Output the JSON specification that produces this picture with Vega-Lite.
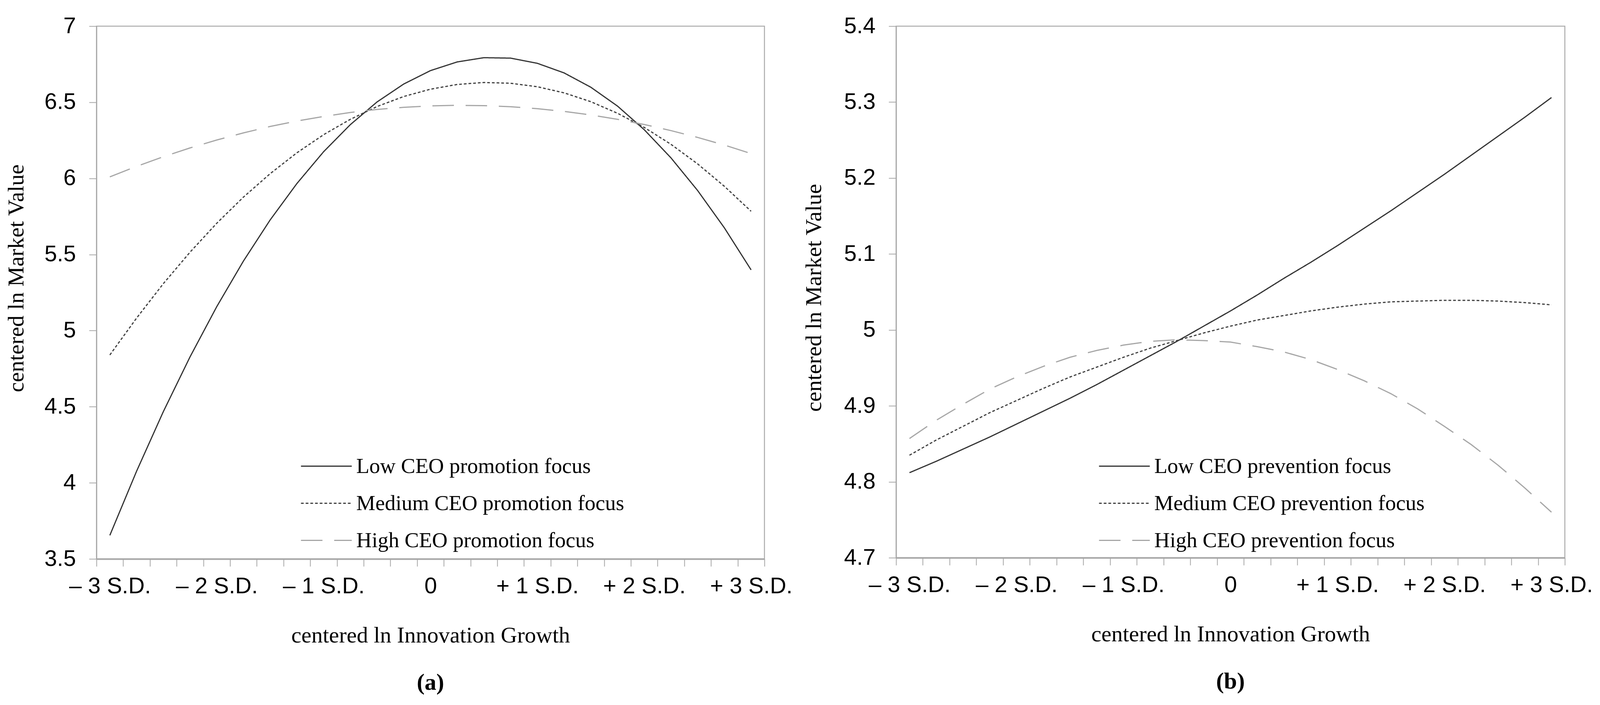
{
  "$schema": "https://vega.github.io/schema/vega-lite/v6.json",
  "background": "white",
  "padding": {"left": 12, "top": 36, "right": 4, "bottom": 4},
  "spacing": 24,
  "config": {
    "view": {"stroke": "#ababab", "strokeWidth": 2.5},
    "axis": {
      "grid": false,
      "domainColor": "#a6a6a6",
      "domainWidth": 2.5,
      "tickColor": "#a6a6a6",
      "tickWidth": 2,
      "tickSize": 19,
      "labelFont": "Liberation Sans",
      "labelFontSize": 58,
      "labelColor": "#000000",
      "labelLimit": 1000,
      "titleFont": "Liberation Serif",
      "titleFontSize": 58,
      "titleFontWeight": "normal",
      "titleColor": "#000000"
    },
    "legend": {
      "labelFont": "Liberation Serif",
      "labelFontSize": 55,
      "labelColor": "#000000",
      "labelLimit": 2000
    },
    "title": {"font": "Liberation Serif", "fontSize": 60, "fontWeight": "bold", "color": "#000000"}
  },
  "datasets": {
    "a": [
      {"x": -3, "level": "Low", "y": 3.655}, {"x": -2.75, "level": "Low", "y": 4.076}, {"x": -2.5, "level": "Low", "y": 4.467},
      {"x": -2.25, "level": "Low", "y": 4.827}, {"x": -2, "level": "Low", "y": 5.157}, {"x": -1.75, "level": "Low", "y": 5.457},
      {"x": -1.5, "level": "Low", "y": 5.727}, {"x": -1.25, "level": "Low", "y": 5.966}, {"x": -1, "level": "Low", "y": 6.175},
      {"x": -0.75, "level": "Low", "y": 6.353}, {"x": -0.5, "level": "Low", "y": 6.502}, {"x": -0.25, "level": "Low", "y": 6.62},
      {"x": 0, "level": "Low", "y": 6.708}, {"x": 0.25, "level": "Low", "y": 6.765}, {"x": 0.5, "level": "Low", "y": 6.793},
      {"x": 0.75, "level": "Low", "y": 6.79}, {"x": 1, "level": "Low", "y": 6.756}, {"x": 1.25, "level": "Low", "y": 6.693},
      {"x": 1.5, "level": "Low", "y": 6.599}, {"x": 1.75, "level": "Low", "y": 6.475}, {"x": 2, "level": "Low", "y": 6.32},
      {"x": 2.25, "level": "Low", "y": 6.135}, {"x": 2.5, "level": "Low", "y": 5.92}, {"x": 2.75, "level": "Low", "y": 5.675},
      {"x": 3, "level": "Low", "y": 5.399},
      {"x": -3, "level": "Medium", "y": 4.84}, {"x": -2.75, "level": "Medium", "y": 5.082}, {"x": -2.5, "level": "Medium", "y": 5.308},
      {"x": -2.25, "level": "Medium", "y": 5.515}, {"x": -2, "level": "Medium", "y": 5.705}, {"x": -1.75, "level": "Medium", "y": 5.877},
      {"x": -1.5, "level": "Medium", "y": 6.031}, {"x": -1.25, "level": "Medium", "y": 6.168}, {"x": -1, "level": "Medium", "y": 6.287},
      {"x": -0.75, "level": "Medium", "y": 6.388}, {"x": -0.5, "level": "Medium", "y": 6.472}, {"x": -0.25, "level": "Medium", "y": 6.538},
      {"x": 0, "level": "Medium", "y": 6.586}, {"x": 0.25, "level": "Medium", "y": 6.617}, {"x": 0.5, "level": "Medium", "y": 6.63},
      {"x": 0.75, "level": "Medium", "y": 6.625}, {"x": 1, "level": "Medium", "y": 6.602}, {"x": 1.25, "level": "Medium", "y": 6.562},
      {"x": 1.5, "level": "Medium", "y": 6.504}, {"x": 1.75, "level": "Medium", "y": 6.428}, {"x": 2, "level": "Medium", "y": 6.335},
      {"x": 2.25, "level": "Medium", "y": 6.224}, {"x": 2.5, "level": "Medium", "y": 6.095}, {"x": 2.75, "level": "Medium", "y": 5.948},
      {"x": 3, "level": "Medium", "y": 5.784},
      {"x": -3, "level": "High", "y": 6.01}, {"x": -2.75, "level": "High", "y": 6.079}, {"x": -2.5, "level": "High", "y": 6.142},
      {"x": -2.25, "level": "High", "y": 6.2}, {"x": -2, "level": "High", "y": 6.252}, {"x": -1.75, "level": "High", "y": 6.299},
      {"x": -1.5, "level": "High", "y": 6.341}, {"x": -1.25, "level": "High", "y": 6.377}, {"x": -1, "level": "High", "y": 6.407},
      {"x": -0.75, "level": "High", "y": 6.433}, {"x": -0.5, "level": "High", "y": 6.453}, {"x": -0.25, "level": "High", "y": 6.467},
      {"x": 0, "level": "High", "y": 6.476}, {"x": 0.25, "level": "High", "y": 6.48}, {"x": 0.5, "level": "High", "y": 6.478},
      {"x": 0.75, "level": "High", "y": 6.471}, {"x": 1, "level": "High", "y": 6.458}, {"x": 1.25, "level": "High", "y": 6.44},
      {"x": 1.5, "level": "High", "y": 6.417}, {"x": 1.75, "level": "High", "y": 6.388}, {"x": 2, "level": "High", "y": 6.354},
      {"x": 2.25, "level": "High", "y": 6.314}, {"x": 2.5, "level": "High", "y": 6.269}, {"x": 2.75, "level": "High", "y": 6.219},
      {"x": 3, "level": "High", "y": 6.163}
    ],
    "b": [
      {"x": -3, "level": "Low", "y": 4.812}, {"x": -2.75, "level": "Low", "y": 4.827}, {"x": -2.5, "level": "Low", "y": 4.843},
      {"x": -2.25, "level": "Low", "y": 4.859}, {"x": -2, "level": "Low", "y": 4.876}, {"x": -1.75, "level": "Low", "y": 4.893},
      {"x": -1.5, "level": "Low", "y": 4.91}, {"x": -1.25, "level": "Low", "y": 4.928}, {"x": -1, "level": "Low", "y": 4.947},
      {"x": -0.75, "level": "Low", "y": 4.966}, {"x": -0.5, "level": "Low", "y": 4.985}, {"x": -0.25, "level": "Low", "y": 5.005},
      {"x": 0, "level": "Low", "y": 5.025}, {"x": 0.25, "level": "Low", "y": 5.046}, {"x": 0.5, "level": "Low", "y": 5.068},
      {"x": 0.75, "level": "Low", "y": 5.089}, {"x": 1, "level": "Low", "y": 5.111}, {"x": 1.25, "level": "Low", "y": 5.134},
      {"x": 1.5, "level": "Low", "y": 5.157}, {"x": 1.75, "level": "Low", "y": 5.181}, {"x": 2, "level": "Low", "y": 5.205},
      {"x": 2.25, "level": "Low", "y": 5.23}, {"x": 2.5, "level": "Low", "y": 5.255}, {"x": 2.75, "level": "Low", "y": 5.28},
      {"x": 3, "level": "Low", "y": 5.306},
      {"x": -3, "level": "Medium", "y": 4.835}, {"x": -2.75, "level": "Medium", "y": 4.855}, {"x": -2.5, "level": "Medium", "y": 4.873},
      {"x": -2.25, "level": "Medium", "y": 4.891}, {"x": -2, "level": "Medium", "y": 4.907}, {"x": -1.75, "level": "Medium", "y": 4.923},
      {"x": -1.5, "level": "Medium", "y": 4.938}, {"x": -1.25, "level": "Medium", "y": 4.951}, {"x": -1, "level": "Medium", "y": 4.964},
      {"x": -0.75, "level": "Medium", "y": 4.976}, {"x": -0.5, "level": "Medium", "y": 4.986}, {"x": -0.25, "level": "Medium", "y": 4.996},
      {"x": 0, "level": "Medium", "y": 5.005}, {"x": 0.25, "level": "Medium", "y": 5.013}, {"x": 0.5, "level": "Medium", "y": 5.019},
      {"x": 0.75, "level": "Medium", "y": 5.025}, {"x": 1, "level": "Medium", "y": 5.03}, {"x": 1.25, "level": "Medium", "y": 5.034},
      {"x": 1.5, "level": "Medium", "y": 5.037}, {"x": 1.75, "level": "Medium", "y": 5.038}, {"x": 2, "level": "Medium", "y": 5.039},
      {"x": 2.25, "level": "Medium", "y": 5.039}, {"x": 2.5, "level": "Medium", "y": 5.038}, {"x": 2.75, "level": "Medium", "y": 5.036},
      {"x": 3, "level": "Medium", "y": 5.033},
      {"x": -3, "level": "High", "y": 4.857}, {"x": -2.75, "level": "High", "y": 4.881}, {"x": -2.5, "level": "High", "y": 4.902},
      {"x": -2.25, "level": "High", "y": 4.922}, {"x": -2, "level": "High", "y": 4.938}, {"x": -1.75, "level": "High", "y": 4.952},
      {"x": -1.5, "level": "High", "y": 4.964}, {"x": -1.25, "level": "High", "y": 4.973}, {"x": -1, "level": "High", "y": 4.98},
      {"x": -0.75, "level": "High", "y": 4.985}, {"x": -0.5, "level": "High", "y": 4.987}, {"x": -0.25, "level": "High", "y": 4.986},
      {"x": 0, "level": "High", "y": 4.984}, {"x": 0.25, "level": "High", "y": 4.978}, {"x": 0.5, "level": "High", "y": 4.971},
      {"x": 0.75, "level": "High", "y": 4.961}, {"x": 1, "level": "High", "y": 4.948}, {"x": 1.25, "level": "High", "y": 4.933},
      {"x": 1.5, "level": "High", "y": 4.916}, {"x": 1.75, "level": "High", "y": 4.896}, {"x": 2, "level": "High", "y": 4.873},
      {"x": 2.25, "level": "High", "y": 4.849}, {"x": 2.5, "level": "High", "y": 4.822}, {"x": 2.75, "level": "High", "y": 4.792},
      {"x": 3, "level": "High", "y": 4.76}
    ]
  },
  "hconcat": [
    {
      "data": {"name": "a"},
      "width": 1710,
      "height": 1364,
      "title": {"text": "(a)", "orient": "bottom", "anchor": "middle", "offset": 63},
      "mark": {"type": "line", "strokeCap": "butt"},
      "encoding": {
        "x": {
          "field": "x", "type": "quantitative",
          "scale": {"domain": [-3.125, 3.125], "nice": false, "zero": false},
          "axis": {
            "title": "centered ln Innovation Growth",
            "values": [-3.125, -2.875, -2.625, -2.375, -2.125, -1.875, -1.625, -1.375, -1.125, -0.875, -0.625, -0.375, -0.125, 0.125, 0.375, 0.625, 0.875, 1.125, 1.375, 1.625, 1.875, 2.125, 2.375, 2.625, 2.875, 3.125, -3, -2, -1, 0, 1, 2, 3],
            "labelExpr": "abs(datum.value - round(datum.value)) > 0.01 ? '' : (datum.value == 0 ? '0' : (datum.value < 0 ? '– ' + abs(datum.value) + ' S.D.' : '+ ' + datum.value + ' S.D.'))",
            "tickOpacity": {"condition": {"test": "abs(datum.value - round(datum.value)) < 0.01", "value": 0}, "value": 1},
            "labelOverlap": false, "labelBound": false, "labelFlush": false,
            "domainWidth": 4, "labelPadding": 22, "titlePadding": 68
          }
        },
        "y": {
          "field": "y", "type": "quantitative",
          "scale": {"domain": [3.5, 7], "nice": false, "zero": false},
          "axis": {
            "title": "centered ln Market Value",
            "values": [3.5, 4, 4.5, 5, 5.5, 6, 6.5, 7],
            "format": "~g", "labelPadding": 34, "titlePadding": 42, "titleY": 645
          }
        },
        "color": {
          "field": "level", "type": "nominal",
          "scale": {"domain": ["Low", "Medium", "High"], "range": ["#333333", "#404040", "#a6a6a6"]},
          "legend": {"orient": "none", "legendX": 522, "legendY": 1060, "title": null, "padding": 0, "labelExpr": "datum.label + ' CEO promotion focus'", "symbolSize": 16900, "rowPadding": -5, "labelOffset": 10}
        },
        "strokeDash": {
          "field": "level", "type": "nominal",
          "scale": {"domain": ["Low", "Medium", "High"], "range": [[1, 0], [7, 5], [55, 30]]},
          "legend": {"orient": "none", "legendX": 522, "legendY": 1060, "title": null, "padding": 0, "labelExpr": "datum.label + ' CEO promotion focus'", "symbolSize": 16900, "rowPadding": -5, "labelOffset": 10}
        },
        "strokeWidth": {
          "field": "level", "type": "ordinal",
          "scale": {"domain": ["Low", "Medium", "High"], "range": [3, 3, 5]},
          "legend": {"orient": "none", "legendX": 522, "legendY": 1060, "title": null, "padding": 0, "labelExpr": "datum.label + ' CEO promotion focus'", "symbolSize": 16900, "rowPadding": -5, "labelOffset": 10}
        }
      }
    },
    {
      "data": {"name": "b"},
      "width": 1712,
      "height": 1361,
      "title": {"text": "(b)", "orient": "bottom", "anchor": "middle", "offset": 63},
      "mark": {"type": "line", "strokeCap": "butt"},
      "encoding": {
        "x": {
          "field": "x", "type": "quantitative",
          "scale": {"domain": [-3.125, 3.125], "nice": false, "zero": false},
          "axis": {
            "title": "centered ln Innovation Growth",
            "values": [-3.125, -2.875, -2.625, -2.375, -2.125, -1.875, -1.625, -1.375, -1.125, -0.875, -0.625, -0.375, -0.125, 0.125, 0.375, 0.625, 0.875, 1.125, 1.375, 1.625, 1.875, 2.125, 2.375, 2.625, 2.875, 3.125, -3, -2, -1, 0, 1, 2, 3],
            "labelExpr": "abs(datum.value - round(datum.value)) > 0.01 ? '' : (datum.value == 0 ? '0' : (datum.value < 0 ? '– ' + abs(datum.value) + ' S.D.' : '+ ' + datum.value + ' S.D.'))",
            "tickOpacity": {"condition": {"test": "abs(datum.value - round(datum.value)) < 0.01", "value": 0}, "value": 1},
            "labelOverlap": false, "labelBound": false, "labelFlush": false,
            "domainWidth": 4, "labelPadding": 22, "titlePadding": 68
          }
        },
        "y": {
          "field": "y", "type": "quantitative",
          "scale": {"domain": [4.7, 5.4], "nice": false, "zero": false},
          "axis": {
            "title": "centered ln Market Value",
            "values": [4.7, 4.8, 4.9, 5, 5.1, 5.2, 5.3, 5.4],
            "format": "~g", "labelPadding": 34, "titlePadding": 47, "titleY": 695
          }
        },
        "color": {
          "field": "level", "type": "nominal",
          "scale": {"domain": ["Low", "Medium", "High"], "range": ["#333333", "#404040", "#a6a6a6"]},
          "legend": {"orient": "none", "legendX": 518, "legendY": 1060, "title": null, "padding": 0, "labelExpr": "datum.label + ' CEO prevention focus'", "symbolSize": 16900, "rowPadding": -5, "labelOffset": 10}
        },
        "strokeDash": {
          "field": "level", "type": "nominal",
          "scale": {"domain": ["Low", "Medium", "High"], "range": [[1, 0], [7, 5], [55, 30]]},
          "legend": {"orient": "none", "legendX": 518, "legendY": 1060, "title": null, "padding": 0, "labelExpr": "datum.label + ' CEO prevention focus'", "symbolSize": 16900, "rowPadding": -5, "labelOffset": 10}
        },
        "strokeWidth": {
          "field": "level", "type": "ordinal",
          "scale": {"domain": ["Low", "Medium", "High"], "range": [3, 3, 5]},
          "legend": {"orient": "none", "legendX": 518, "legendY": 1060, "title": null, "padding": 0, "labelExpr": "datum.label + ' CEO prevention focus'", "symbolSize": 16900, "rowPadding": -5, "labelOffset": 10}
        }
      }
    }
  ],
  "resolve": {"scale": {"color": "independent", "strokeDash": "independent", "strokeWidth": "independent"}, "legend": {"color": "independent", "strokeDash": "independent", "strokeWidth": "independent"}}
}
